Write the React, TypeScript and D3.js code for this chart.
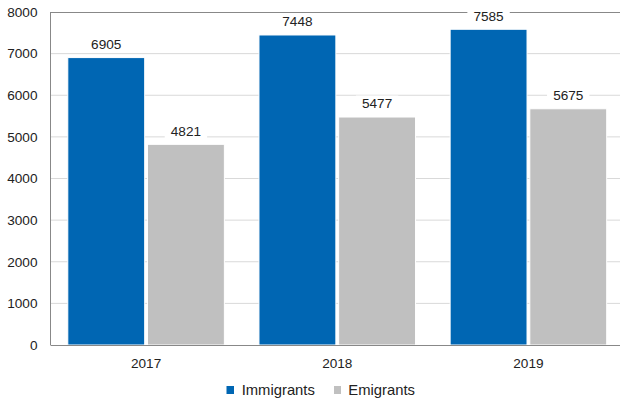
import React from "react";
import * as d3 from "d3";

const years = ["2017", "2018", "2019"];
const seriesNames = ["Immigrants", "Emigrants"];
const immigrants = [6905, 7448, 7585];
const emigrants = [4821, 5477, 5675];
const yTicks = [0, 1000, 2000, 3000, 4000, 5000, 6000, 7000, 8000];
const colors = ["#0066b3", "#c0c0c0"];

const W = 620;
const H = 403;
const left = 50.5;
const right = 624;
const top = 12;
const bottom = 345;
const font = "'Liberation Sans', Arial, sans-serif";

export default function App() {
  const x = d3.scaleBand().domain(years).range([left, right]).paddingInner(0).paddingOuter(0);
  const inner = d3.scaleBand().domain(seriesNames).range([17.3, x.bandwidth() - 17.3]).paddingInner(0.035);
  const y = d3.scaleLinear().domain([0, 8000]).range([bottom, top]);
  const values = [immigrants, emigrants];

  return (
    <svg width={W} height={H} style={{ position: "absolute", left: 0, top: 0 }} fontFamily={font}>
      <rect width={W} height={H} fill="#fff" />
      {yTicks.map((t) => (
        <g key={t}>
          {t > 0 && t < 8000 && (
            <line x1={left} x2={right} y1={y(t)} y2={y(t)} stroke="#d9d9d9" strokeWidth={1} />
          )}
          <text x={37.5} y={y(t)} dy="0.35em" textAnchor="end" fontSize={13.6} fill="#222">
            {t}
          </text>
        </g>
      ))}
      <line x1={left} x2={right} y1={top + 0.5} y2={top + 0.5} stroke="#888" strokeWidth={1} />
      {years.map((yr, i) =>
        seriesNames.map((s, j) => {
          const bx = (x(yr) as number) + (inner(s) as number);
          const bw = inner.bandwidth();
          const v = values[j][i];
          const cx = bx + bw / 2;
          const ly = y(v) - 13.5;
          const label = String(v);
          const tw = label.length * 7.6;
          return (
            <g key={yr + s}>
              <rect x={bx} y={y(v)} width={bw} height={bottom - y(v)} fill={colors[j]} stroke="#fff" strokeWidth={1} />
              <rect x={cx - tw / 2 - 6} y={ly - 8} width={tw + 12} height={16} fill="#fff" />
              <text x={cx} y={ly} dy="0.35em" textAnchor="middle" fontSize={13.6} fill="#222">
                {label}
              </text>
            </g>
          );
        })
      )}
      <line x1={left} x2={left} y1={top} y2={bottom} stroke="#888" strokeWidth={1} />
      <line x1={left} x2={right} y1={bottom + 0.5} y2={bottom + 0.5} stroke="#888" strokeWidth={1} />
      {years.map((yr) => (
        <text key={yr} x={(x(yr) as number) + x.bandwidth() / 2} y={362.8} dy="0.35em" textAnchor="middle" fontSize={13.6} fill="#222">
          {yr}
        </text>
      ))}
      <g>
        <rect x={226.5} y={386} width={7.5} height={8} fill={colors[0]} />
        <text x={241.7} y={390} dy="0.35em" fontSize={14.8} fill="#222">{seriesNames[0]}</text>
        <rect x={334} y={386} width={7} height={8} fill={colors[1]} />
        <text x={348.3} y={390} dy="0.35em" fontSize={14.8} fill="#222">{seriesNames[1]}</text>
      </g>
    </svg>
  );
}
